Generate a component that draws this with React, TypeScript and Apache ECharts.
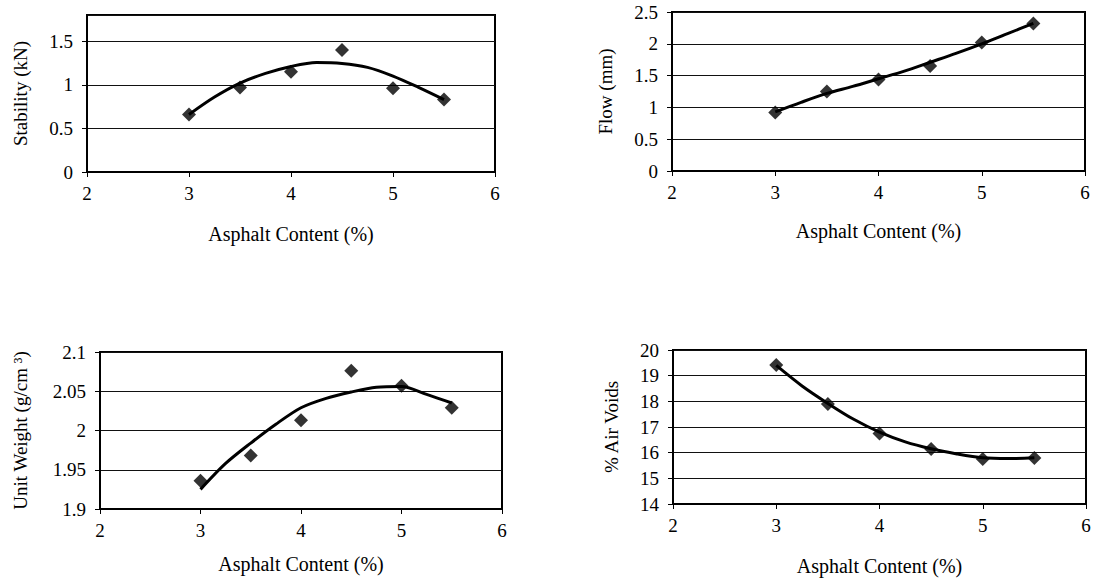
import React, { useEffect, useRef } from "react";
import * as echarts from "echarts";

// Asphalt content (%) of the tested mixes
const asphalt = [3, 3.5, 4, 4.5, 5, 5.5];
const stability = [0.66, 0.97, 1.15, 1.4, 0.96, 0.83];
const flow = [0.92, 1.25, 1.44, 1.65, 2.02, 2.32];
const unitWeight = [1.936, 1.968, 2.013, 2.076, 2.057, 2.029];
const airVoids = [19.42, 17.9, 16.75, 16.14, 15.75, 15.79];

// Trend curves
const curveX = [3, 3.25, 3.5, 3.75, 4, 4.25, 4.5, 4.75, 5, 5.25, 5.5];
const stabilityCurve = [0.66, 0.86, 1.02, 1.13, 1.21, 1.255, 1.245, 1.2, 1.1, 0.97, 0.83];
const flowCurve = [0.93, 1.08, 1.22, 1.33, 1.45, 1.57, 1.71, 1.85, 2.0, 2.16, 2.32];
const unitWeightCurve = [1.925, 1.958, 1.984, 2.008, 2.029, 2.041, 2.049, 2.055, 2.056, 2.046, 2.035];
const airVoidsCurve = [19.4, 18.6, 17.92, 17.3, 16.8, 16.42, 16.15, 15.95, 15.8, 15.77, 15.8];

const xTitle = "Asphalt Content (%)";
const yTitles = ["Stability (kN)", "Flow (mm)", "Unit Weight (g/cm ³)", "% Air Voids"];

const FONT = "Liberation Serif";

export default function App() {
  const ref = useRef<HTMLDivElement>(null);
  useEffect(() => {
    if (!ref.current) return;
    const chart = echarts.init(ref.current, null, { renderer: "svg" });

    const grids = [
      { left: 87, top: 15, width: 408, height: 157 },
      { left: 672, top: 12, width: 413, height: 159 },
      { left: 100, top: 352, width: 402, height: 157 },
      { left: 673, top: 350, width: 413, height: 154 },
    ];
    const yRanges = [
      { min: 0, max: 1.8, interval: 0.5, dec: 1 },
      { min: 0, max: 2.5, interval: 0.5, dec: 1 },
      { min: 1.9, max: 2.1, interval: 0.05, dec: 2 },
      { min: 14, max: 20, interval: 1, dec: 0 },
    ];
    const xNameGaps = [52, 50, 45, 52];
    const yNameGaps = [57, 57, 70, 52];

    const pts = [stability, flow, unitWeight, airVoids];
    const curves = [stabilityCurve, flowCurve, unitWeightCurve, airVoidsCurve];

    const option: any = {
      animation: false,
      backgroundColor: "#fff",
      grid: grids.map((g) => ({
        ...g,
        show: true,
        borderColor: "#000",
        borderWidth: 2,
        backgroundColor: "transparent",
      })),
      xAxis: grids.map((_, i) => ({
        type: "value",
        gridIndex: i,
        min: 2,
        max: 6,
        interval: 1,
        name: xTitle,
        nameLocation: "middle",
        nameGap: xNameGaps[i],
        nameTextStyle: { fontFamily: FONT, fontSize: 20, color: "#000" },
        axisLine: { show: true, lineStyle: { color: "#000", width: 2 } },
        axisTick: { show: true, inside: false, length: 5, lineStyle: { color: "#000" } },
        axisLabel: { fontFamily: FONT, fontSize: 19, color: "#000", margin: 12 },
        splitLine: { show: false },
      })),
      yAxis: yRanges.map((r, i) => ({
        type: "value",
        gridIndex: i,
        min: r.min,
        max: r.max,
        interval: r.interval,
        name: yTitles[i],
        nameLocation: "middle",
        nameRotate: 90,
        nameGap: yNameGaps[i],
        nameTextStyle: { fontFamily: FONT, fontSize: 19, color: "#000" },
        axisLine: { show: true, lineStyle: { color: "#000", width: 2 } },
        axisTick: { show: true, inside: false, length: 5, lineStyle: { color: "#000" } },
        axisLabel: {
          fontFamily: FONT,
          fontSize: 19,
          color: "#000",
          margin: 14,
          showMaxLabel: i !== 0,
          formatter: (v: number) => {
            const s = v.toFixed(r.dec);
            return String(parseFloat(s));
          },
        },
        splitLine: { show: true, lineStyle: { color: "#111", width: 1 } },
      })),
      series: [
        ...curves.map((c, i) => ({
          type: "line",
          xAxisIndex: i,
          yAxisIndex: i,
          data: curveX.map((x, k) => [x, c[k]]),
          smooth: 0.3,
          showSymbol: false,
          symbol: "none",
          lineStyle: { color: "#000", width: 3 },
          z: 3,
        })),
        ...pts.map((p, i) => ({
          type: "scatter",
          xAxisIndex: i,
          yAxisIndex: i,
          data: asphalt.map((x, k) => [x, p[k]]),
          symbol: "diamond",
          symbolSize: 14,
          itemStyle: { color: "#000" },
          z: 4,
        })),
      ],
    };
    chart.setOption(option);
    return () => chart.dispose();
  }, []);
  return (
    <div
      ref={ref}
      style={{ position: "absolute", left: 0, top: 0, width: 1095, height: 583 }}
    />
  );
}
